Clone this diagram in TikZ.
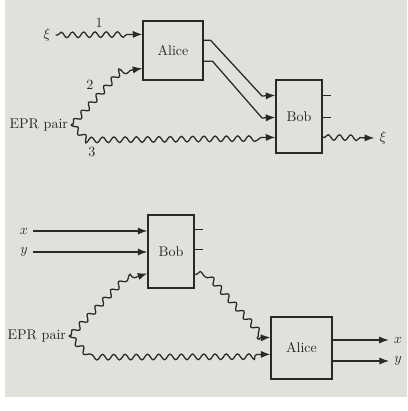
\documentclass[tikz,border=0pt]{standalone}
\usepackage{tikz}
\usetikzlibrary{arrows.meta,calc,decorations.pathmorphing}
\definecolor{paper}{RGB}{224,225,219}
\definecolor{ink}{RGB}{40,40,40}
\tikzset{
  box/.style={draw=ink,line width=0.9pt,fill=paper,inner sep=0pt},
  tip/.style={-{Latex[length=2.4mm,width=1.8mm]}},
  wave/.style={decorate,decoration={snake,amplitude=2pt,segment length=8pt,pre length=0.5mm,post length=2.6mm}}
}

\begin{document}
\begin{tikzpicture}[x=0.025cm,y=-0.025cm,font=\normalsize,line width=0.9pt,draw=ink,text=ink]
\useasboundingbox (0,0) rectangle (407,411);
\fill[paper] (5,0) rectangle (407,397);
% teleportation
\node[box,minimum width=1.5cm,minimum height=1.475cm] (alice1) at (173,50.5) {Alice};
\node[box,minimum width=1.15cm,minimum height=1.825cm] (bob1) at (299,116.5) {Bob};
\node (xi1) at (47,35) {$\xi$};
\node (xi2) at (383,138) {$\xi$};
\node[anchor=east,inner sep=1pt] (epr1) at (70,125) {EPR pair};
\coordinate (src1) at (72,125); \fill[ink] (src1) circle (1.2pt);
\draw[wave,tip] (xi1.east) -- ($(alice1.north west)+(0,14)$) node[midway,above=1pt]{1};
\draw[wave,tip] (src1) -- (120,72) -- ($(alice1.north west)+(0,48)$);
\node at (90,85) {2};
\draw[wave,tip] (src1) -- (86,139) -- ($(bob1.north west)+(0,58)$);
\node at (92,152) {3};
\draw[tip] ($(alice1.north east)+(0,20)$) -- ++(7,0) -- (262,96) -- ($(bob1.north west)+(0,16)$);
\draw[tip] ($(alice1.north east)+(0,41)$) -- ++(9,0) -- (262,118) -- ($(bob1.north west)+(0,38)$);
\draw ($(bob1.north east)+(0,16)$) -- ++(8,0);
\draw ($(bob1.north east)+(0,38)$) -- ++(8,0);
\draw[wave,tip] ($(bob1.north east)+(0,58)$) -- (xi2.west);
% dense coding
\node[box,minimum width=1.15cm,minimum height=1.825cm] (bob2) at (171,251.5) {Bob};
\node[box,minimum width=1.525cm,minimum height=1.55cm] (alice2) at (301.5,348) {Alice};
\node (x1) at (24,231) {$x$};
\node (y1) at (24,252) {$y$};
\draw[tip] (x1.east) -- (x1 -| bob2.west);
\draw[tip] (y1.east) -- (y1 -| bob2.west);
\draw ($(bob2.north east)+(0,15)$) -- ++(8,0);
\draw ($(bob2.north east)+(0,35)$) -- ++(8,0);
\node[anchor=east,inner sep=1pt] (epr2) at (68,336) {EPR pair};
\coordinate (src2) at (70,336); \fill[ink] (src2) circle (1.2pt);
\draw[wave,tip] (src2) -- (122,282) -- ($(bob2.north west)+(0,59)$);
\draw[wave,tip] (src2) -- (88,355) -- ($(alice2.north west)+(0,38)$);
\draw[wave,tip] ($(bob2.north east)+(0,60)$) -- ++(6,0) -- (258,338) -- ($(alice2.north west)+(0,21)$);
\node (x2) at (398,340) {$x$};
\node (y2) at (398,361) {$y$};
\draw[tip] (alice2.east |- x2) -- (x2.west);
\draw[tip] (alice2.east |- y2) -- (y2.west);
\end{tikzpicture}
\end{document}
